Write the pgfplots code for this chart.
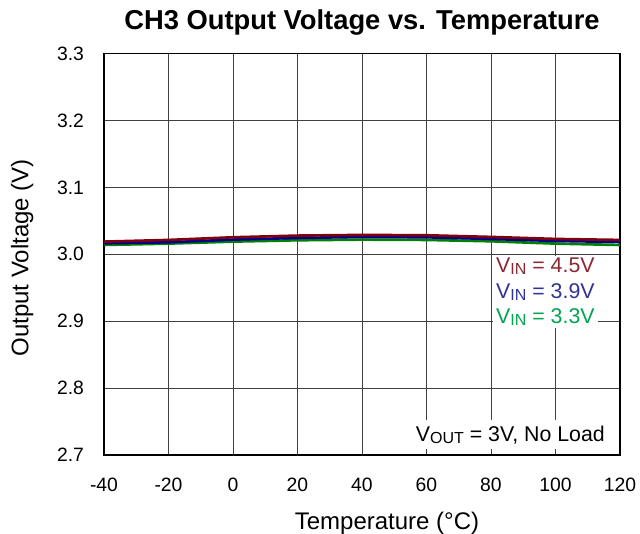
\documentclass[border=0pt]{standalone}
\usepackage{pgfplots}
\pgfplotsset{compat=1.18}
\usepackage{fontspec}
\setmainfont{Liberation Sans}
\definecolor{lred}{RGB}{128,0,16}
\definecolor{lblue}{RGB}{0,0,140}
\definecolor{lgreen}{RGB}{0,128,0}
\definecolor{tred}{RGB}{140,40,50}
\definecolor{tblue}{RGB}{50,50,150}
\definecolor{tgreen}{RGB}{0,165,80}
\newcommand{\sub}[1]{{\fontsize{12pt}{13pt}\selectfont\raisebox{-1.5pt}{#1}}}
\begin{document}
\begin{tikzpicture}
\path[use as bounding box] (-78pt,-59.25pt) rectangle (402pt,341.25pt);
\begin{axis}[
  scale only axis, width=387pt, height=301pt,
  xmin=-40, xmax=120, ymin=2.7, ymax=3.3,
  xtick={-40,-20,...,120}, ytick={2.7,2.8,...,3.3},
  yticklabel style={/pgf/number format/fixed,/pgf/number format/fixed zerofill,/pgf/number format/precision=1, xshift=-11.5pt},
  xticklabel style={yshift=-14pt},
  /pgf/number format/assume math mode=true,
  ticklabel style={font=\fontsize{14.5pt}{16pt}\selectfont},
  major tick length=4.5pt,
  tick style={black!75, line width=0.6pt},
  grid=major, grid style={black!75, line width=0.6pt},
  axis line style={black, line width=0.8pt},
  title={\bfseries CH3 Output Voltage vs. Temperature},
  title style={font=\fontsize{20.5pt}{22pt}\selectfont, at={(axis description cs:0.5,1.04)}, anchor=base},
  xlabel={Temperature (°C)},
  ylabel={Output Voltage (V)},
  xlabel style={font=\fontsize{18pt}{20pt}\selectfont, at={(axis description cs:0.5484,-0.1845)}, anchor=base},
  ylabel style={font=\fontsize{18pt}{20pt}\selectfont, at={(axis description cs:-0.1467,0.4913)}, anchor=base},
  clip=false,
]
\addplot[lgreen, line width=2pt] coordinates {(-40,3.014) (-20,3.016) (0,3.019) (20,3.021) (40,3.022) (60,3.0215) (80,3.0195) (100,3.016) (120,3.014)};
\addplot[lblue, line width=2pt] coordinates {(-40,3.0165) (-20,3.018) (0,3.022) (20,3.0245) (40,3.026) (60,3.0255) (80,3.023) (100,3.020) (120,3.0185)};
\addplot[lred, line width=2pt] coordinates {(-40,3.019) (-20,3.0215) (0,3.0255) (20,3.028) (40,3.029) (60,3.0285) (80,3.026) (100,3.023) (120,3.0215)};
\node[anchor=north west, fill=white, align=left, font=\fontsize{16pt}{19.2pt}\selectfont, inner xsep=2.25pt, inner ysep=1.5pt] at (axis cs:80.6,2.9978)
  {\textcolor{tred}{V\sub{IN} = 4.5V}\\ \textcolor{tblue}{V\sub{IN} = 3.9V}\\ \textcolor{tgreen}{V\sub{IN} = 3.3V}};
\node[anchor=east, fill=white, font=\fontsize{16pt}{18pt}\selectfont, inner xsep=2pt, inner ysep=4pt] at (axis cs:116.2,2.730) {V\sub{OUT} = 3V, No Load};
\end{axis}
\end{tikzpicture}
\end{document}
